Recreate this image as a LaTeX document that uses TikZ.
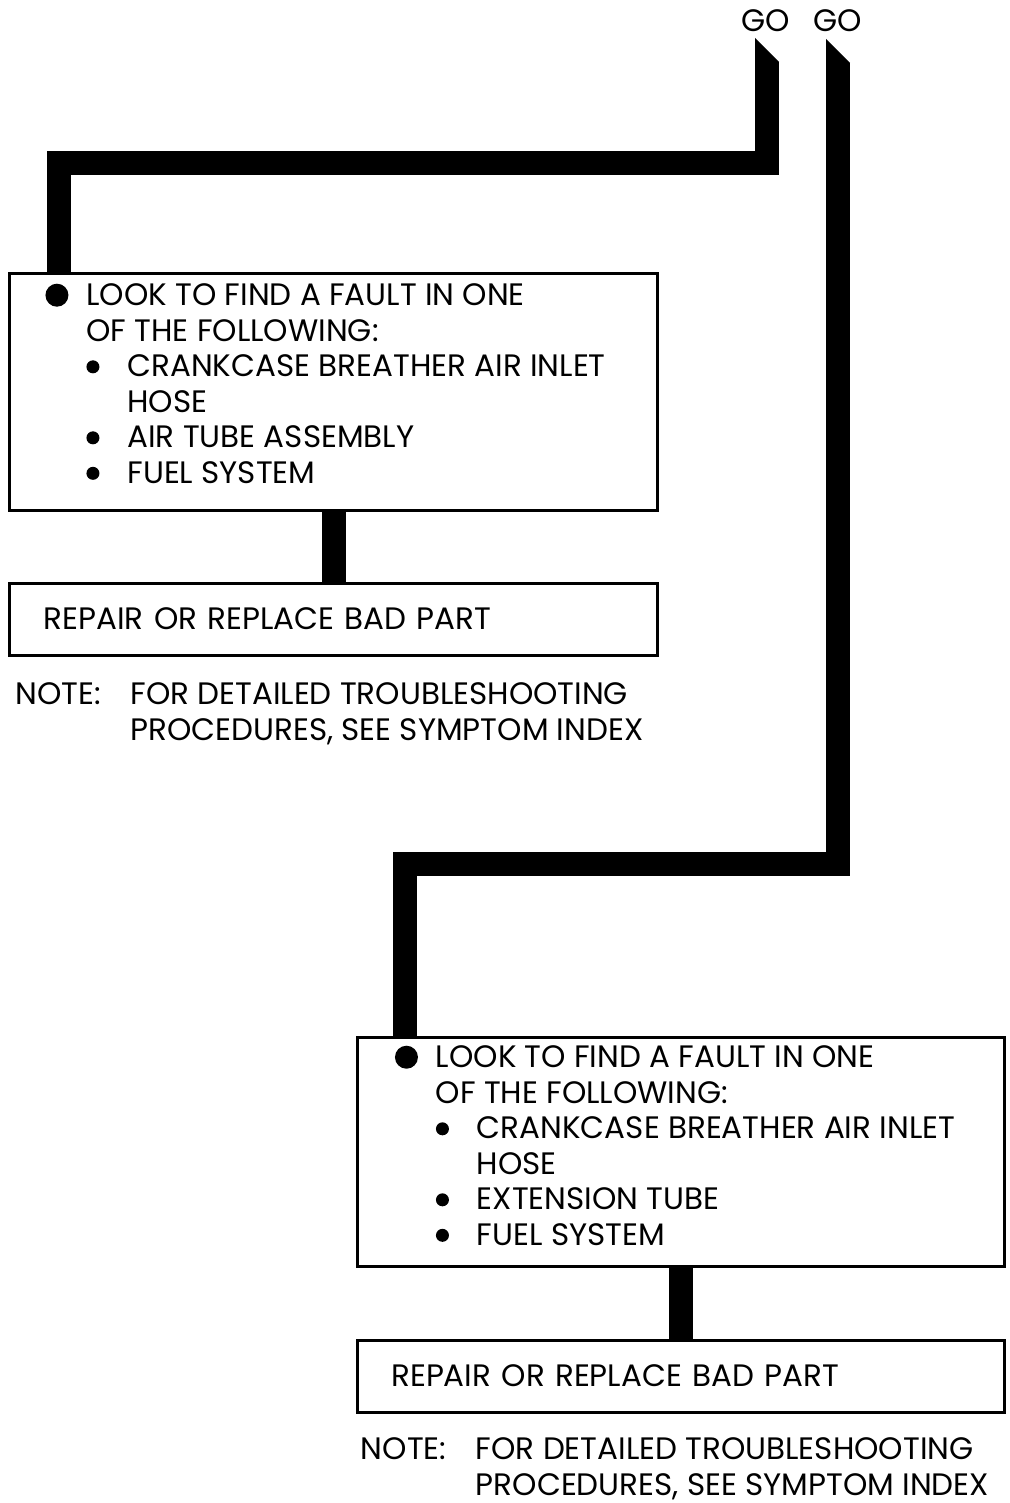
\documentclass[tikz,border=0pt]{standalone}
\usepackage{fontspec}
\setmainfont{Poppins}
\usetikzlibrary{positioning}
\newcommand{\boxfont}{\fontsize{31}{35.5}\selectfont}
\newcommand{\bigdot}{\tikz[baseline=0pt]\fill (0pt,0.34em) circle (11.5pt);}
\newcommand{\smalldot}{\tikz[baseline=0pt]\fill (0pt,0.32em) circle (6.5pt);}

\begin{document}
\begin{tikzpicture}[x=1pt, y=-1pt,
  faultbox/.style={draw, line width=3pt, minimum width=647.5pt, inner sep=0pt},
  repairbox/.style={draw, line width=3pt, text width=579.5pt, inner xsep=34pt,
    minimum height=72pt, align=left, font=\boxfont},
  listtext/.style={align=left, inner sep=0pt, font=\boxfont},
  notetext/.style={align=left, inner sep=0pt, font=\boxfont},
  golabel/.style={inner sep=0pt, font=\boxfont},
  bar/.style={line width=24pt}
]
  \useasboundingbox (0,0) rectangle (1009,1503);

  % go branches
  \node[golabel] (go1) at (766,21) {GO};
  \node[golabel] (go2) at (838,21) {GO};
  \coordinate (tip1) at (767,62);
  \coordinate (tip2) at (838,63);
  \coordinate (bend1) at (58.5,163.5);
  \coordinate (bend2) at (405,863.5);

  % first check
  \node[faultbox, minimum height=236pt] (fault1) at (333.5,392) {};
  \node[listtext, below right=11pt and 37pt of fault1.north west] (list1)
    {\makebox[41pt][l]{\bigdot}LOOK TO FIND A FAULT IN ONE\\
     \hspace*{41pt}OF THE FOLLOWING:\\
     \hspace*{41pt}\makebox[41pt][l]{\smalldot}CRANKCASE BREATHER AIR INLET\\
     \hspace*{82pt}HOSE\\
     \hspace*{41pt}\makebox[41pt][l]{\smalldot}AIR TUBE ASSEMBLY\\
     \hspace*{41pt}\makebox[41pt][l]{\smalldot}FUEL SYSTEM};
  \node[repairbox] (repair1) at (333.5,619) {REPAIR OR REPLACE BAD PART};
  \node[notetext, below right=26pt and 7pt of repair1.south west] (note1)
    {\makebox[115pt][l]{NOTE:}FOR DETAILED TROUBLESHOOTING\\
     \hspace*{115pt}PROCEDURES, SEE SYMPTOM INDEX};

  % second check
  \node[faultbox, minimum height=229pt] (fault2) at (681,1151.5) {};
  \node[listtext, below right=10pt and 39pt of fault2.north west] (list2)
    {\makebox[41pt][l]{\bigdot}LOOK TO FIND A FAULT IN ONE\\
     \hspace*{41pt}OF THE FOLLOWING:\\
     \hspace*{41pt}\makebox[41pt][l]{\smalldot}CRANKCASE BREATHER AIR INLET\\
     \hspace*{82pt}HOSE\\
     \hspace*{41pt}\makebox[41pt][l]{\smalldot}EXTENSION TUBE\\
     \hspace*{41pt}\makebox[41pt][l]{\smalldot}FUEL SYSTEM};
  \node[repairbox] (repair2) at (681,1376) {REPAIR OR REPLACE BAD PART};
  \node[notetext, below right=24pt and 5pt of repair2.south west] (note2)
    {\makebox[115pt][l]{NOTE:}FOR DETAILED TROUBLESHOOTING\\
     \hspace*{115pt}PROCEDURES, SEE SYMPTOM INDEX};

  % thick flow lines
  \draw[bar] (tip1) |- (bend1) -- (bend1 |- fault1.north);
  \fill (tip1) ++(-12,0) -- ++(0,-24) -- ++(24,24) -- cycle;
  \draw[bar] (tip2) |- (bend2) -- (bend2 |- fault2.north);
  \fill (tip2) ++(-12,0) -- ++(0,-24) -- ++(24,24) -- cycle;
  \draw[bar] (fault1.south) -- (repair1.north);
  \draw[bar] (fault2.south) -- (repair2.north);
\end{tikzpicture}
\end{document}
